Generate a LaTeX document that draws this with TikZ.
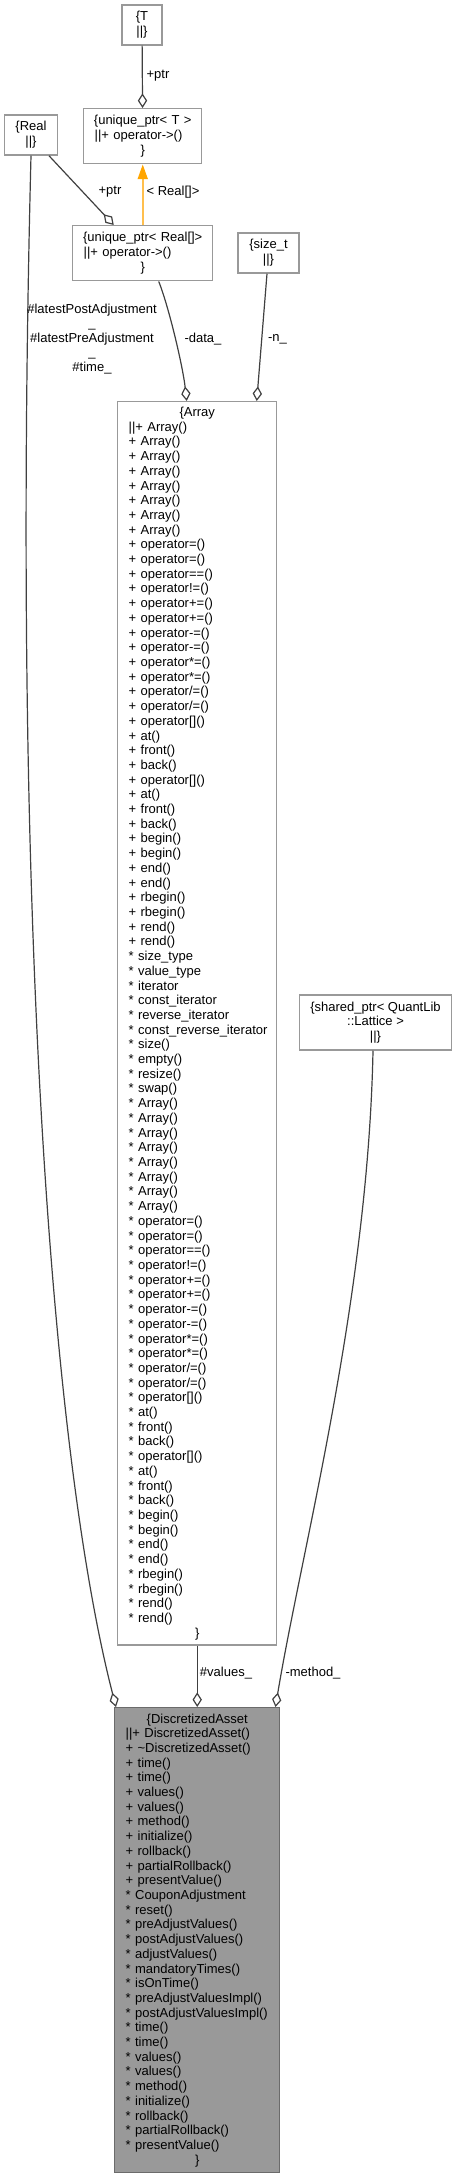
\documentclass[tikz,border=0pt]{standalone}
\usepackage{fontspec}
\setmainfont{Liberation Sans}
\usetikzlibrary{arrows.meta}
\definecolor{boxline}{HTML}{999999}
\definecolor{daline}{HTML}{6B6B6B}
\definecolor{dafill}{HTML}{999999}
\definecolor{edgeline}{HTML}{404040}
\definecolor{tmplline}{HTML}{FFBF4D}
\definecolor{tmplhead}{HTML}{FFA500}
\newcommand{\ctr}[1]{\makebox[\linewidth]{#1}}
\begin{document}
\begin{tikzpicture}[x=0.75pt,y=-0.75pt,
  cls/.style={draw=boxline,line width=1.1pt,font=\fontsize{9.75}{11.03}\selectfont,inner xsep=8.25pt,inner ysep=4pt},
  clsc/.style={cls,align=center},
  clsl/.style={cls,align=left,anchor=north west},
  lbl/.style={font=\fontsize{9.75}{10.9}\selectfont,inner sep=0pt},
  agg/.style={draw=edgeline,line width=0.9pt,-{Diamond[open,length=11pt,width=7pt]}},
  tmpl/.style={draw=tmplline,line width=1.3pt,-{Triangle[length=11pt,width=7.5pt,color=tmplhead,fill=tmplhead]}}]
\useasboundingbox (0,0) rectangle (456,2177);

% classes
\node[clsc,minimum width=30pt,minimum height=30pt] (t) at (142,25) {\{T\\||\}};
\node[clsl,text width=72pt,minimum height=41.25pt] (uptrt) at (83,108) {\ctr{\{unique\_ptr< T >}\\||+~operator->()\\\ctr{\}}};
\node[clsc,minimum width=39pt,minimum height=30pt] (real) at (31,135) {\{Real\\||\}};
\node[clsl,text width=88.5pt,minimum height=41.25pt] (uptrreal) at (72,225) {\ctr{\{unique\_ptr< Real[]>}\\||+~operator->()\\\ctr{\}}};
\node[clsc,minimum width=45.75pt,minimum height=30pt] (sizet) at (268.5,253) {\{size\_t\\||\}};
\node[clsc,minimum width=113.25pt,minimum height=41.25pt] (lattice) at (375.5,1022.5) {\{shared\_ptr< QuantLib\\::Lattice >\\||\}};

\node[clsl,text width=102.75pt,minimum height=932.25pt] (array) at (117,401) {\ctr{\{Array}\\
||+~Array()\\
+~Array()\\
+~Array()\\
+~Array()\\
+~Array()\\
+~Array()\\
+~Array()\\
+~Array()\\
+~operator=()\\
+~operator=()\\
+~operator==()\\
+~operator!=()\\
+~operator+=()\\
+~operator+=()\\
+~operator-=()\\
+~operator-=()\\
+~operator*=()\\
+~operator*=()\\
+~operator/=()\\
+~operator/=()\\
+~operator[]()\\
+~at()\\
+~front()\\
+~back()\\
+~operator[]()\\
+~at()\\
+~front()\\
+~back()\\
+~begin()\\
+~begin()\\
+~end()\\
+~end()\\
+~rbegin()\\
+~rbegin()\\
+~rend()\\
+~rend()\\
{*}~size\_type\\
{*}~value\_type\\
{*}~iterator\\
{*}~const\_iterator\\
{*}~reverse\_iterator\\
{*}~const\_reverse\_iterator\\
{*}~size()\\
{*}~empty()\\
{*}~resize()\\
{*}~swap()\\
{*}~Array()\\
{*}~Array()\\
{*}~Array()\\
{*}~Array()\\
{*}~Array()\\
{*}~Array()\\
{*}~Array()\\
{*}~Array()\\
{*}~operator=()\\
{*}~operator=()\\
{*}~operator==()\\
{*}~operator!=()\\
{*}~operator+=()\\
{*}~operator+=()\\
{*}~operator-=()\\
{*}~operator-=()\\
{*}~operator*=()\\
{*}~operator*=()\\
{*}~operator/=()\\
{*}~operator/=()\\
{*}~operator[]()\\
{*}~at()\\
{*}~front()\\
{*}~back()\\
{*}~operator[]()\\
{*}~at()\\
{*}~front()\\
{*}~back()\\
{*}~begin()\\
{*}~begin()\\
{*}~end()\\
{*}~end()\\
{*}~rbegin()\\
{*}~rbegin()\\
{*}~rend()\\
{*}~rend()\\
\ctr{\}}};

\node[clsl,draw=daline,fill=dafill,text width=107.25pt,minimum height=348.75pt] (da) at (114,1707) {\ctr{\{DiscretizedAsset}\\
||+~DiscretizedAsset()\\
+~\textasciitilde DiscretizedAsset()\\
+~time()\\
+~time()\\
+~values()\\
+~values()\\
+~method()\\
+~initialize()\\
+~rollback()\\
+~partialRollback()\\
+~presentValue()\\
{*}~CouponAdjustment\\
{*}~reset()\\
{*}~preAdjustValues()\\
{*}~postAdjustValues()\\
{*}~adjustValues()\\
{*}~mandatoryTimes()\\
{*}~isOnTime()\\
{*}~preAdjustValuesImpl()\\
{*}~postAdjustValuesImpl()\\
{*}~time()\\
{*}~time()\\
{*}~values()\\
{*}~values()\\
{*}~method()\\
{*}~initialize()\\
{*}~rollback()\\
{*}~partialRollback()\\
{*}~presentValue()\\
\ctr{\}}};

% relations
\draw[agg] (t) -- (uptrt);
\draw[agg] ([shift={(18,0)}]real.south) -- ([shift={(-29,0)}]uptrreal.north);
\draw[tmpl] (uptrreal) -- (uptrt);
\draw[agg] ([shift={(16,0)}]uptrreal.south) .. controls +(10,25) and +(-4,-35) .. ([shift={(-10.5,0)}]array.north);
\draw[agg] ([shift={(-1.5,0)}]sizet.south) -- ([shift={(59.5,0)}]array.north);
\draw[agg] (real.south) .. controls (12,900) and (50,1450) .. ([shift={(2,0)}]da.north west);
\draw[agg] (array) -- (da);
\draw[agg] ([shift={(-2.5,0)}]lattice.south) .. controls +(-5,250) and +(26,-157) .. ([shift={(-5,0)}]da.north east);

% labels
\node[lbl] (lptrt) at (158,76) {+ptr};
\node[lbl] (lptrr) at (110,192) {+ptr};
\node[lbl] (ltmpl) at (173,192) {< Real[]>};
\node[lbl] (ldata) at (203,339) {-data\_};
\node[lbl] (ln) at (277.5,339) {-n\_};
\node[lbl,align=center] (lreal) at (92,339) {\#latestPostAdjustment\\\_\\\#latestPreAdjustment\\\_\\\#time\_};
\node[lbl] (lvalues) at (226,1673) {\#values\_};
\node[lbl] (lmethod) at (313,1673) {-method\_};
\end{tikzpicture}
\end{document}
